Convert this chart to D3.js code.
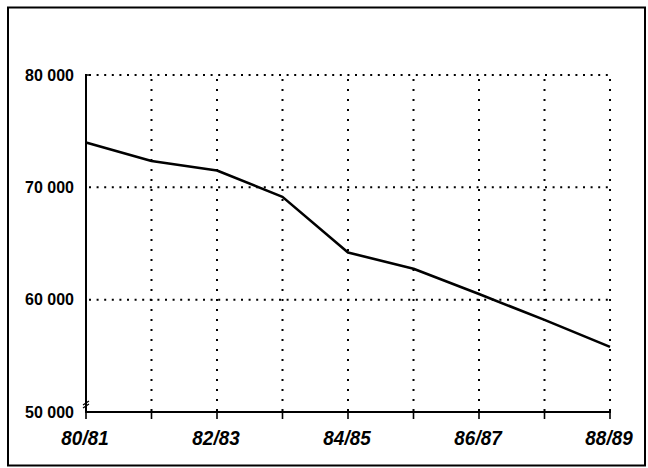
<!DOCTYPE html>
<html>
<head>
<meta charset="utf-8">
<script src="https://cdn.jsdelivr.net/npm/d3@7/dist/d3.min.js"></script>
<style>
  html, body { margin: 0; padding: 0; background: #fff; }
  svg { display: block; }
</style>
</head>
<body>
<svg id="chart" width="648" height="468"></svg>
<script>
const categories = ["80/81", "81/82", "82/83", "83/84", "84/85", "85/86", "86/87", "87/88", "88/89"];
const values = [74000, 72350, 71500, 69150, 64200, 62750, 60500, 58200, 55800];
const xTickLabels = ["80/81", "82/83", "84/85", "86/87", "88/89"];
const yTicks = [50000, 60000, 70000, 80000];

const svg = d3.select("#chart");
const x = d3.scalePoint().domain(categories).range([86, 610]);
const y = d3.scaleLinear().domain([50000, 80000]).range([412, 75]);
const fmt = v => d3.format(",")(v).replace(/,/g, " ");

// frame
svg.append("rect").attr("x", 8).attr("y", 7.5).attr("width", 637).attr("height", 458)
  .attr("fill", "none").attr("stroke", "#000").attr("stroke-width", 2);

// horizontal dotted grid
svg.append("g").selectAll("line").data(yTicks.filter(v => v > 50000)).join("line")
  .attr("x1", x(categories[0]) + 3).attr("x2", x(categories[categories.length - 1]))
  .attr("y1", d => y(d)).attr("y2", d => y(d))
  .attr("stroke", "#000").attr("stroke-width", 2).attr("stroke-dasharray", "2,5.6");

// vertical dotted grid
svg.append("g").selectAll("line").data(categories.slice(1)).join("line")
  .attr("x1", d => x(d)).attr("x2", d => x(d))
  .attr("y1", y(80000) + 4).attr("y2", y(50000))
  .attr("stroke", "#000").attr("stroke-width", 2).attr("stroke-dasharray", "2,8");

// y axis
const yAxis = svg.append("g").attr("transform", `translate(${x(categories[0])},0)`);
yAxis.append("line").attr("y1", y(80000) - 1).attr("y2", y(50000) + 1)
  .attr("stroke", "#000").attr("stroke-width", 2);
yAxis.append("line").attr("x1", 0).attr("x2", 4).attr("y1", y(80000)).attr("y2", y(80000))
  .attr("stroke", "#000").attr("stroke-width", 1.5);
// axis break mark
yAxis.append("path").attr("d", `M-3,${y(50000) - 4} L3,${y(50000) - 8} M-3,${y(50000) - 7} L3,${y(50000) - 11}`)
  .attr("stroke", "#000").attr("stroke-width", 1.3).attr("fill", "none");
yAxis.selectAll("text.yl").data(yTicks).join("text").attr("class", "yl")
  .attr("x", -12).attr("y", d => y(d)).attr("dy", "0.36em")
  .attr("text-anchor", "end")
  .attr("font-family", "'Liberation Sans', Arial, sans-serif")
  .attr("font-weight", "bold").attr("font-size", 16)
  .text(d => fmt(d));

// x axis
const xAxis = svg.append("g").attr("transform", `translate(0,${y(50000)})`);
xAxis.append("line").attr("x1", x(categories[0])).attr("x2", x(categories[categories.length - 1]) + 1)
  .attr("stroke", "#000").attr("stroke-width", 2);
xAxis.selectAll("line.tick").data(categories).join("line").attr("class", "tick")
  .attr("x1", d => x(d)).attr("x2", d => x(d))
  .attr("y1", d => d === categories[categories.length - 1] ? -3 : 0).attr("y2", 7)
  .attr("stroke", "#000").attr("stroke-width", 1.6);
xAxis.selectAll("text").data(xTickLabels).join("text")
  .attr("transform", d => `translate(${x(d) - 1},33) scale(0.9,1)`)
  .attr("text-anchor", "middle")
  .attr("font-family", "'Liberation Sans', Arial, sans-serif")
  .attr("font-weight", "bold").attr("font-style", "italic").attr("font-size", 21)
  .text(d => d);

// data line
const line = d3.line().x((d, i) => x(categories[i])).y(d => y(d));
svg.append("path").datum(values).attr("d", line)
  .attr("fill", "none").attr("stroke", "#000").attr("stroke-width", 2.6)
  .attr("stroke-linejoin", "round");
</script>
</body>
</html>
